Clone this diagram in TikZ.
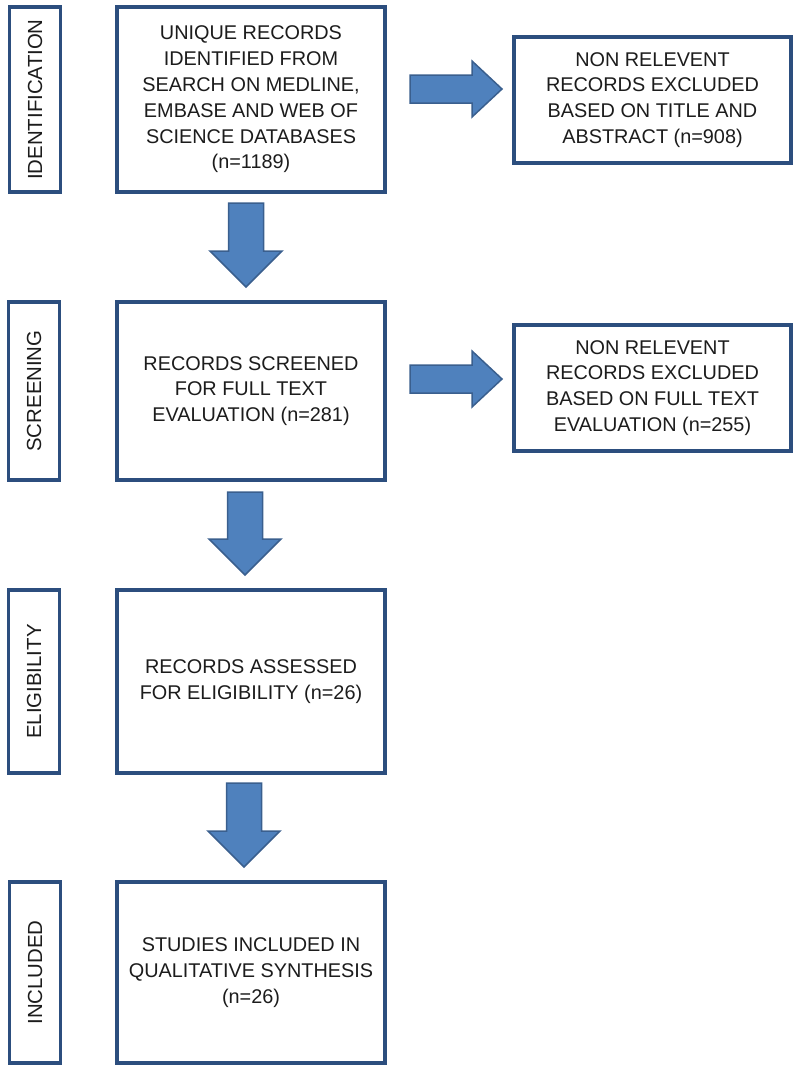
\documentclass[tikz,border=0pt]{standalone}
\usepackage{fontspec}
\setmainfont{Liberation Sans}
\definecolor{boxblue}{HTML}{2C4E7E}
\definecolor{arrfill}{HTML}{4F81BD}
\definecolor{arrline}{HTML}{3A5F8E}
\definecolor{txt}{HTML}{1C1C1C}
\newcommand\dnarr[3]{%
  \draw[blockarrow] (#1-17.5,#2) -- (#1+17.5,#2) -- (#1+17.5,#3-36) -- (#1+36,#3-36) -- (#1,#3) -- (#1-36,#3-36) -- (#1-17.5,#3-36) -- cycle;}
\newcommand\rtarr[3]{%
  \draw[blockarrow] (#1,#2-14) -- (#3-30,#2-14) -- (#3-30,#2-28) -- (#3,#2) -- (#3-30,#2+28) -- (#3-30,#2+14) -- (#1,#2+14) -- cycle;}
\begin{document}
\begin{tikzpicture}[x=0.02cm,y=-0.02cm,
  mainbox/.style={draw=boxblue, line width=0.075cm, fill=white, minimum width=268*0.02cm, align=center, text=txt, font=\fontsize{11.3}{14.7}\selectfont, inner sep=0pt},
  sidebox/.style={draw=boxblue, line width=0.075cm, fill=white, minimum width=277*0.02cm, minimum height=126*0.02cm, align=center, text=txt, font=\fontsize{11.3}{14.7}\selectfont, inner sep=0pt},
  labelbox/.style={draw=boxblue, line width=0.075cm, fill=white, minimum width=51*0.02cm, inner sep=0pt},
  labeltext/.style={rotate=90, text=txt, font=\fontsize{11.6}{14}\selectfont, inner sep=0pt},
  blockarrow/.style={fill=arrfill, draw=arrline, line width=0.03cm, line join=miter}]
\useasboundingbox (0,0) rectangle (800,1073);

% phase labels
\node[labelbox, minimum height=185*0.02cm] (lid) at (35,99.5) {};
\node[labeltext] (tid) at (lid.center) {IDENTIFICATION};
\node[labelbox, minimum height=178*0.02cm] (lsc) at (34,391) {};
\node[labeltext] (tsc) at (lsc.center) {SCREENING};
\node[labelbox, minimum height=183*0.02cm] (lel) at (34,681.5) {};
\node[labeltext] (tel) at (lel.center) {ELIGIBILITY};
\node[labelbox, minimum height=181*0.02cm] (lin) at (35,972.5) {};
\node[labeltext] (tin) at (lin.center) {INCLUDED};

% main boxes
\node[mainbox, minimum height=185*0.02cm] (b1) at (251,99.5) {UNIQUE RECORDS\\IDENTIFIED FROM\\SEARCH ON MEDLINE,\\EMBASE AND WEB OF\\SCIENCE DATABASES\\(n=1189)};
\node[mainbox, minimum height=178*0.02cm] (b2) at (251,391) {RECORDS SCREENED\\FOR FULL TEXT\\EVALUATION (n=281)};
\node[mainbox, minimum height=183*0.02cm] (b3) at (251,681.5) {RECORDS ASSESSED\\FOR ELIGIBILITY (n=26)};
\node[mainbox, minimum height=181*0.02cm] (b4) at (251,972.5) {STUDIES INCLUDED IN\\QUALITATIVE SYNTHESIS\\(n=26)};

% side boxes
\node[sidebox] (e1) at (652.5,100) {NON RELEVENT\\RECORDS EXCLUDED\\BASED ON TITLE AND\\ABSTRACT (n=908)};
\node[sidebox] (e2) at (652.5,388) {NON RELEVENT\\RECORDS EXCLUDED\\BASED ON FULL TEXT\\EVALUATION (n=255)};

% block arrows
\dnarr{246}{203}{287}
\dnarr{245}{492}{575}
\dnarr{244}{783}{867}
\rtarr{410}{89}{502}
\rtarr{410}{379}{502}
\end{tikzpicture}
\end{document}
